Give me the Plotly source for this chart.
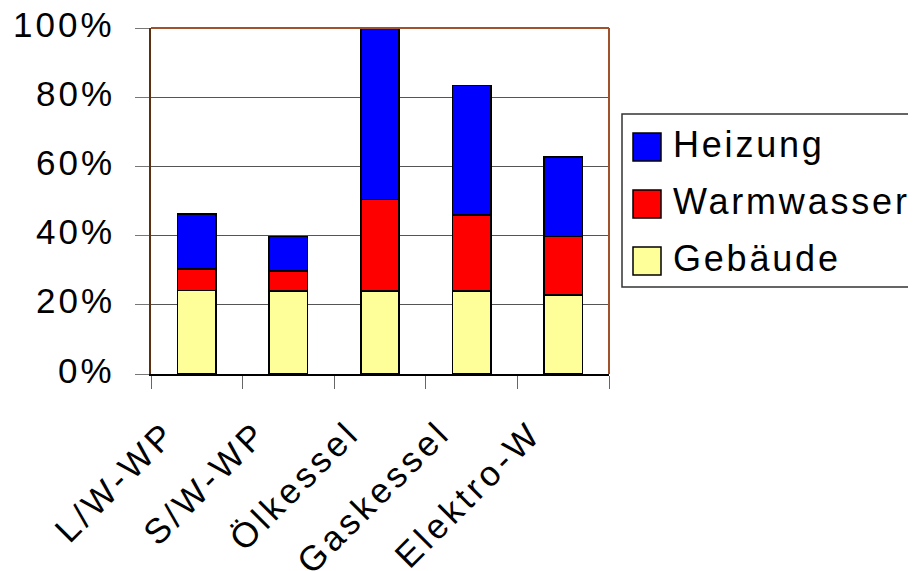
import plotly.graph_objects as go

categories = ["L/W-WP", "S/W-WP", "Ölkessel", "Gaskessel", "Elektro-W"]
gebaeude = [24.1, 24.0, 24.0, 24.0, 22.9]
warmwasser = [6.2, 5.7, 26.5, 22.0, 16.8]
heizung = [15.9, 10.0, 49.5, 37.4, 23.0]
y_ticks = [0, 20, 40, 60, 80, 100]

font_family = "Liberation Sans, Arial, sans-serif"

def spaced(t, ls=3):
    return f'<span style="letter-spacing:{ls}px">{t}</span>'

OFF = 8  # default page body margin
W, H = 916 - OFF, 571 - OFF
# plot area in screen pixels
SL, SR, ST, SB = 151, 609, 28, 374
L, R, T, B = SL - OFF, SR - OFF, ST - OFF, SB - OFF

def px(x):  # screen x -> paper
    return (x - SL) / (SR - SL)

def py(y):  # screen y -> paper
    return (SB - y) / (SB - ST)

fig = go.Figure()
series = [
    ("Gebäude", gebaeude, "#FFFF99"),
    ("Warmwasser", warmwasser, "#FF0000"),
    ("Heizung", heizung, "#0000FF"),
]
for name, vals, col in series:
    fig.add_trace(go.Bar(
        x=categories, y=vals, name=name, showlegend=False,
        marker=dict(color=col, line=dict(color="black", width=1.5)),
    ))

fig.update_layout(
    width=W, height=H,
    barmode="stack", bargap=0.58,
    margin=dict(l=L, r=W - R, t=T, b=H - B, autoexpand=False),
    plot_bgcolor="white", paper_bgcolor="white",
    font=dict(family=font_family, size=35, color="black"),
    showlegend=False,
)
fig.update_xaxes(
    type="category", categoryorder="array", categoryarray=categories,
    range=[-0.5, len(categories) - 0.5],
    tickson="boundaries", ticks="outside", ticklen=13,
    tickcolor="#666666", showline=True, linecolor="black",
    linewidth=1.5, automargin=False, showticklabels=False,
)
fig.update_yaxes(
    range=[0, 100], tickvals=y_ticks,
    ticks="outside", ticklen=14, tickcolor="#777777",
    showgrid=True, gridcolor="#555555", gridwidth=1,
    showline=True, linecolor="#5a3010", linewidth=2,
    zeroline=False, automargin=False, showticklabels=False,
)

# y tick labels
for v in y_ticks:
    fig.add_annotation(xref="paper", yref="y", x=0, y=v, text=spaced(f"{v}%"),
                       showarrow=False, xanchor="right", yanchor="middle",
                       xshift=-34, yshift=4,
                       font=dict(size=35, family=font_family, color="black"))
# x category labels (rotated), placed at category index positions
for i, c in enumerate(categories):
    fig.add_annotation(xref="x", yref="paper", x=i, y=0, text=spaced(c, 4),
                       showarrow=False, textangle=-45,
                       xanchor="right", yanchor="top",
                       xshift=-11, yshift=-36,
                       font=dict(size=35, family=font_family, color="black"))

# top and right frame
fig.add_shape(type="line", xref="paper", yref="paper", x0=0, x1=1, y0=1, y1=1,
              line=dict(color="#A0522D", width=2))
fig.add_shape(type="line", xref="paper", yref="paper", x0=1, x1=1, y0=0, y1=1,
              line=dict(color="#A0522D", width=2))

# legend (drawn manually to match the large square keys)
fig.add_shape(type="rect", xref="paper", yref="paper",
              x0=px(622), x1=px(940), y0=py(287), y1=py(114),
              line=dict(color="#333333", width=1.5), fillcolor="white")
legend_items = [("Heizung", "#0000FF", 147), ("Warmwasser", "#FF0000", 204), ("Gebäude", "#FFFF99", 261)]
for name, col, yc in legend_items:
    fig.add_shape(type="rect", xref="paper", yref="paper",
                  x0=px(633), x1=px(661), y0=py(yc + 14), y1=py(yc - 14),
                  line=dict(color="black", width=1.5), fillcolor=col)
    fig.add_annotation(xref="paper", yref="paper", x=px(671), y=py(yc - 3),
                       text=spaced(name, 2.8), showarrow=False,
                       xanchor="left", yanchor="middle",
                       font=dict(size=36, family=font_family, color="black"))

fig.write_html("out.html")
